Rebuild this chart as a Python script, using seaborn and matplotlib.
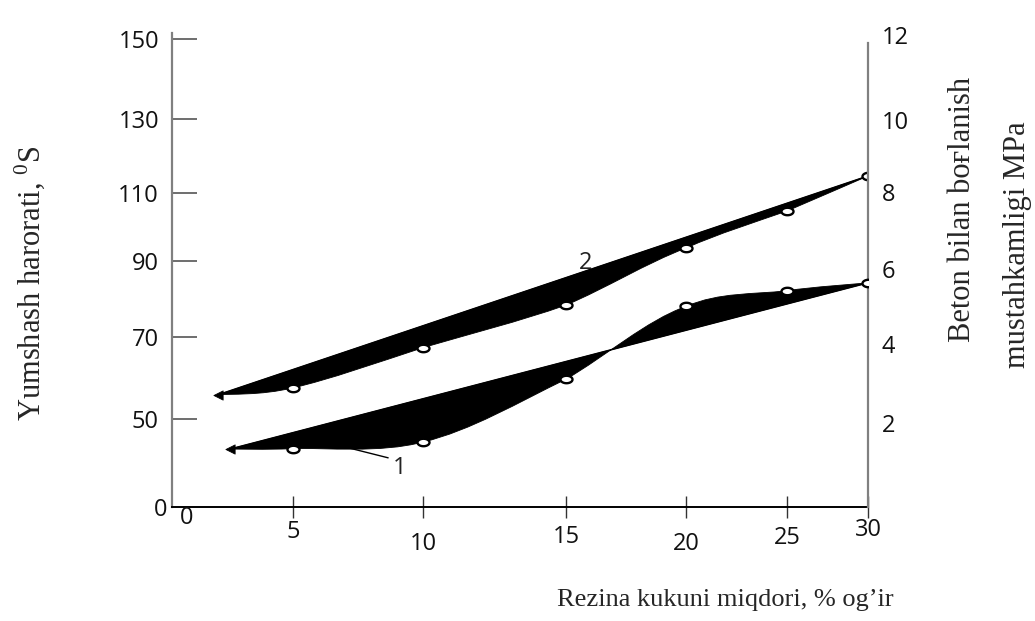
import numpy as np
import seaborn as sns
import matplotlib
matplotlib.use("Agg")
import matplotlib.pyplot as plt
from matplotlib.path import Path
from matplotlib.patches import PathPatch

# ---------------- data ----------------
rubber_pct = [5, 10, 15, 20, 25, 30]
softening_temp = [57.6, 67.4, 78.4, 93.8, 104.7, 114.6]   # curve 2, left axis
bond_strength = [1.35, 1.52, 3.11, 5.00, 5.42, 5.63]      # curve 1, right axis
temp_trend_start = (1.9, 55.9)
bond_trend_start = (2.4, 1.34)

x_ticks = [5, 10, 15, 20, 25, 30]
temp_ticks = [0, 50, 70, 90, 110, 130, 150]
bond_ticks = [2, 4, 6, 8, 10, 12]

# ---------------- hand-drawn (uneven) axis spacing, in pixels ----------------
X_VAL = [-5, 0, 5, 10, 15, 20, 25, 30, 35]
X_PIX = [-121, 0, 121, 251, 394, 514, 615, 696, 777]
T_VAL = [-50, 0, 50, 70, 90, 110, 130, 150, 170]
T_PIX = [-88, 0, 88, 170, 246, 314, 388, 468, 548]
M_VAL = [-2, 0, 2, 4, 6, 8, 10, 12, 14]
M_PIX = [-73, 6, 85, 166, 242, 320, 394, 480, 565]


def piecewise(vals, pix):
    vals = np.asarray(vals, float)
    pix = np.asarray(pix, float)
    return (lambda v: np.interp(v, vals, pix),
            lambda p: np.interp(p, pix, vals))


fx = piecewise(X_VAL, X_PIX)
ft = piecewise(T_VAL, T_PIX)
fm = piecewise(M_VAL, M_PIX)

sns.set_theme(style="white")
plt.rcParams["font.family"] = ["Open Sans", "DejaVu Sans"]
plt.rcParams["mathtext.fontset"] = "custom"
plt.rcParams["mathtext.rm"] = "Liberation Serif"
SERIF = ["Liberation Serif", "DejaVu Serif"]
TICK_FS = 17

W, H = 1035, 621
AX_L, AX_R, AX_T, AX_B = 172, 868, 33, 507
fig = plt.figure(figsize=(W / 100, H / 100), dpi=100)
ax = fig.add_axes([AX_L / W, 1 - AX_B / H, (AX_R - AX_L) / W, (AX_B - AX_T) / H])
ax.set_xscale("function", functions=fx)
ax.set_xlim(0, 30)
ax.set_yscale("function", functions=ft)
ax.set_ylim(0, ft[1](AX_B - AX_T))

ax2 = ax.twinx()
ax2.set_yscale("function", functions=fm)
ax2.set_ylim(fm[1](0), fm[1](AX_B - AX_T + 8))


def band_patch(start, xs, ys, target):
    """Black band between a straight trend line and a smooth curve through the points."""
    pts = np.vstack([[start], np.column_stack([xs, ys])])
    n = len(pts)
    verts = [pts[0], pts[-1]]
    codes = [Path.MOVETO, Path.LINETO]
    back = pts[::-1]
    padded = np.vstack([back[:1], back, back[-1:]])
    for i in range(1, n):
        p0, p1, p2, p3 = padded[i - 1], padded[i], padded[i + 1], padded[i + 2]
        verts += [p1 + (p2 - p0) / 6, p2 - (p3 - p1) / 6, p2]
        codes += [Path.CURVE4] * 3
    verts.append(pts[0])
    codes.append(Path.CLOSEPOLY)
    patch = PathPatch(Path(np.array(verts), codes), facecolor="black",
                      edgecolor="black", lw=0.6, transform=target.transData, zorder=2)
    target.add_patch(patch)


band_patch(temp_trend_start, rubber_pct, softening_temp, ax)
band_patch(bond_trend_start, rubber_pct, bond_strength, ax2)

# straight trend lines
sns.lineplot(x=[temp_trend_start[0], rubber_pct[-1]], y=[temp_trend_start[1], softening_temp[-1]],
             ax=ax, color="black", lw=1.1, zorder=3)
sns.lineplot(x=[bond_trend_start[0], rubber_pct[-1]], y=[bond_trend_start[1], bond_strength[-1]],
             ax=ax2, color="black", lw=1.1, zorder=3)

# arrow heads at the start of each band
sns.scatterplot(x=[temp_trend_start[0]], y=[temp_trend_start[1]], ax=ax, marker="<",
                s=45, color="black", edgecolor="black", zorder=4)
sns.scatterplot(x=[bond_trend_start[0]], y=[bond_trend_start[1]], ax=ax2, marker="<",
                s=45, color="black", edgecolor="black", zorder=4)

# measured points: small open ellipses
theta = np.linspace(0, 2 * np.pi, 41)
ellipse = Path(np.column_stack([np.cos(theta), 0.62 * np.sin(theta)]), closed=True)
sns.scatterplot(x=rubber_pct, y=softening_temp, ax=ax, marker=ellipse, s=75,
                color="white", edgecolor="black", linewidth=1.7, zorder=5)
sns.scatterplot(x=rubber_pct, y=bond_strength, ax=ax2, marker=ellipse, s=75,
                color="white", edgecolor="black", linewidth=1.7, zorder=5)

# curve labels
ax.text(15.83, 89.5, "2", fontsize=TICK_FS, ha="center", va="center", color="#222")
ax2.annotate("1", xy=(7.2, 1.36), xytext=(9.1, 0.85), fontsize=TICK_FS, ha="center",
             va="center", color="#222",
             arrowprops=dict(arrowstyle="-", color="black", lw=1.0, shrinkA=1, shrinkB=0,
                             relpos=(0.2, 0.85)))

# spines
for a in (ax, ax2):
    a.spines["top"].set_visible(False)
ax.spines["right"].set_visible(False)
ax2.spines["left"].set_visible(False)
ax2.spines["bottom"].set_visible(False)
ax2.spines["right"].set_bounds(fm[1](0), fm[1](AX_B - AX_T - 2))
ax.spines["left"].set_color("#808080")
ax.spines["left"].set_linewidth(1.6)
ax2.spines["right"].set_color("#808080")
ax2.spines["right"].set_linewidth(1.6)
ax.spines["bottom"].set_color("black")
ax.spines["bottom"].set_linewidth(1.4)

# x ticks (staggered labels)
ax.set_xticks(x_ticks)
ax.set_xticklabels([str(v) for v in x_ticks])
ax.tick_params(axis="x", direction="inout", length=16, width=1.0, color="#333333",
               labelsize=TICK_FS, labelcolor="#111111", bottom=True)
for tick, pad in zip(ax.xaxis.get_major_ticks(), [1.5, 10, 5, 10, 6, 0]):
    tick.set_pad(pad)
ax.annotate("0", xy=(0, 0), xycoords=("data", "axes fraction"), xytext=(15, -11),
            textcoords="offset pixels", ha="center", va="center", fontsize=TICK_FS,
            color="#111111")

# left y ticks
ax.set_yticks(temp_ticks)
ax.set_yticklabels([str(v) for v in temp_ticks])
ax.tick_params(axis="y", direction="in", length=18, width=1.2, color="#555555",
               labelsize=TICK_FS, labelcolor="#111111", pad=9.4, left=True)
first = ax.yaxis.get_major_ticks()[0]
first.tick1line.set_visible(False)
first.set_pad(3.5)

# right y ticks
ax2.set_yticks(bond_ticks)
ax2.set_yticklabels([str(v) for v in bond_ticks])
ax2.tick_params(axis="y", length=0, labelsize=TICK_FS, labelcolor="#111111", pad=10)
ax.set_xlabel("")
ax.set_ylabel("")
ax2.set_ylabel("")

# axis titles
fig.text(30 / W, 1 - 283 / H, r"Yumshash harorati, $^{\mathrm{0}}$S", rotation=90,
         ha="center", va="center", fontsize=22, family=SERIF)
fig.text(962 / W, 1 - 209 / H, "Beton bilan boғlanish", rotation=90,
         ha="center", va="center", fontsize=22, family=SERIF)
fig.text(1018 / W, 1 - 245 / H, "mustahkamligi MPa", rotation=90,
         ha="center", va="center", fontsize=22, family=SERIF)
fig.text(725 / W, 1 - 600 / H, "Rezina kukuni miqdori, % og’ir",
         ha="center", va="center", fontsize=19, family=SERIF)

fig.savefig("out.png", dpi=100, facecolor="white")
